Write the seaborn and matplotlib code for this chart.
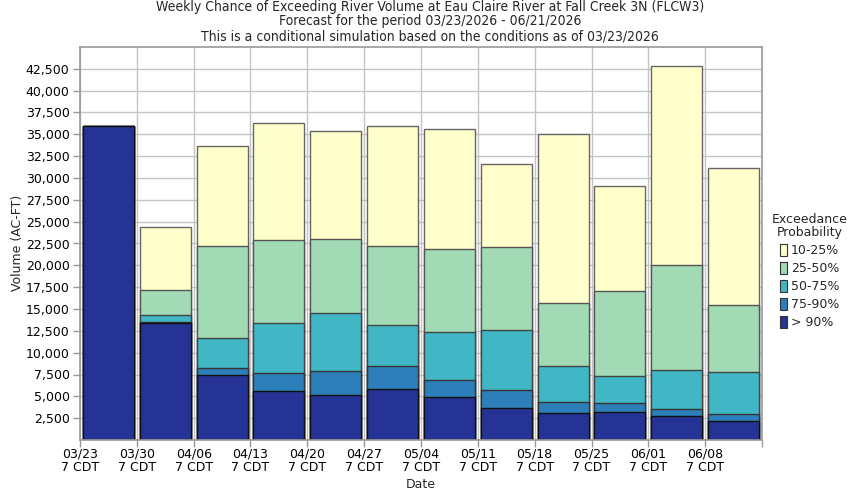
import matplotlib
matplotlib.use('Agg')
import matplotlib.pyplot as plt
from matplotlib.patches import Patch
from matplotlib.ticker import FuncFormatter
import numpy as np
import pandas as pd
import seaborn as sns

# ── Data (top of each exceedance band, AC-FT) ──
weeks = ['03/23', '03/30', '04/06', '04/13', '04/20', '04/27',
         '05/04', '05/11', '05/18', '05/25', '06/01', '06/08']
p10 = [35950, 24420, 33680, 36300, 35390, 35960, 35620, 31620, 35050, 29100, 42820, 31160]
p25 = [35900, 17140, 22250, 22930, 23050, 22250, 21900, 22130, 15740, 17100, 20080, 15500]
p50 = [35900, 14360, 11730, 13450, 14590, 13220, 12310, 12650, 8530, 7280, 7960, 7730]
p75 = [35900, 13560, 8190, 7620, 7850, 8530, 6820, 5680, 4300, 4190, 3500, 2940]
p90 = [35900, 13450, 7500, 5560, 5100, 5790, 4880, 3620, 3050, 3160, 2700, 2140]

band_labels = ['10-25%', '25-50%', '50-75%', '75-90%', '> 90%']
band_colors = ['#FFFFCC', '#A1DAB4', '#41B6C4', '#2C7FB8', '#253494']
band_edges = ['#666666', '#555555', '#444444', '#333333', '#111111']

df = pd.DataFrame({'week': weeks, 'p10': p10, 'p25': p25,
                   'p50': p50, 'p75': p75, 'p90': p90})

sns.set_style('ticks')
plt.rcParams['font.family'] = ['DejaVu Sans']

fig, ax = plt.subplots(figsize=(8.5, 5), dpi=100)
fig.subplots_adjust(left=80/850, right=762/850, bottom=1-440/500, top=1-47/500)

# tallest band first, each narrower band drawn over it
for col, color, edge in zip(['p10', 'p25', 'p50', 'p75', 'p90'], band_colors, band_edges):
    sns.barplot(data=df, x='week', y=col, color=color, saturation=1, width=0.9,
                edgecolor=edge, linewidth=1, errorbar=None, ax=ax, zorder=2)

ax.set_xlim(-0.5, len(weeks) - 0.5)
ax.set_xticks(np.arange(len(weeks) + 1) - 0.5)
ax.set_xticklabels([w + '\n7 CDT' for w in weeks] + [''], linespacing=1.0)
ax.set_ylim(0, 45000)
ax.set_yticks(np.arange(2500, 45000, 2500))
ax.yaxis.set_major_formatter(FuncFormatter(lambda v, p: f'{v:,.0f}'))

ax.grid(True, color='#c4c4c4', linewidth=1)
ax.set_axisbelow(True)
for s in ax.spines.values():
    s.set_color('#999999')
    s.set_linewidth(1.2)
    s.set_visible(True)
ax.tick_params(axis='both', direction='out', length=5, color='#999999',
               labelsize=9, labelcolor='black', width=1)
ax.tick_params(axis='x', pad=0.5)
ax.tick_params(axis='y', pad=2.5)
ax.set_xlabel('')
ax.set_ylabel('')

# titles and axis labels
title_lines = ['Weekly Chance of Exceeding River Volume at Eau Claire River at Fall Creek 3N (FLCW3)',
               'Forecast for the period 03/23/2026 - 06/21/2026',
               'This is a conditional simulation based on the conditions as of 03/23/2026']
for i, line in enumerate(title_lines):
    fig.text(430/850, 1 - (7 + 14.5*i)/500, line, ha='center', va='center',
             fontsize=10, fontstretch='condensed')

fig.text(18/850, 1 - 243/500, 'Volume (AC-FT)', rotation=90, ha='center', va='center', fontsize=9)
fig.text(421/850, 1 - 485/500, 'Date', ha='center', va='center', fontsize=9)

handles = [Patch(facecolor=c, edgecolor='#333333', linewidth=0.8) for c in band_colors]
leg = fig.legend(handles, band_labels, title='Exceedance\nProbability', loc='upper left',
                 bbox_to_anchor=(767/850, 1 - 208/500), frameon=False, fontsize=9,
                 title_fontsize=9, handlelength=0.55, handleheight=1.1,
                 handletextpad=0.3, labelspacing=0.38, borderaxespad=0)
leg.get_title().set_multialignment('center')
leg.get_title().set_linespacing(1.05)

plt.savefig('out.png', dpi=100)
